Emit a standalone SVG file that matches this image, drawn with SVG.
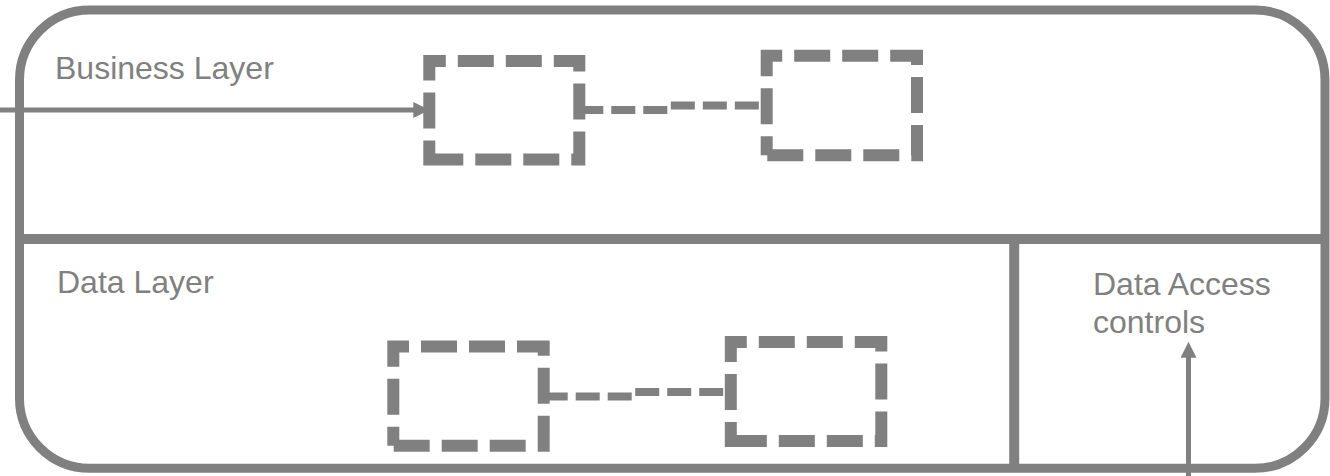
<svg xmlns="http://www.w3.org/2000/svg" width="1330" height="476" viewBox="0 0 1330 476">
  <style>
    .frame { fill: none; stroke: #808080; stroke-width: 9; }
    .divider { fill: none; stroke: #808080; stroke-width: 10; }
    .box { fill: none; stroke: #808080; stroke-width: 12; stroke-dasharray: 36 12; stroke-dashoffset: 17; stroke-linejoin: miter; }
    .link { fill: none; stroke: #808080; stroke-width: 8; stroke-dasharray: 24 8; stroke-linejoin: miter; }
    .arrow { fill: none; stroke: #808080; stroke-width: 5; }
    .label { font-family: "Liberation Sans", Arial, sans-serif; font-size: 32px; fill: #808080; }
  </style>
  <defs>
    <marker id="head" markerUnits="userSpaceOnUse" markerWidth="16" markerHeight="16" refX="8" refY="8" orient="auto" viewBox="0 0 16 16">
      <path d="M0,0 L16,8 L0,16 Z" fill="#808080"/>
    </marker>
  </defs>

  <g id="container">
    <rect class="frame" x="19.5" y="10" width="1305.5" height="458.3" rx="70" ry="70"/>
    <line class="divider" x1="19.5" y1="239" x2="1325" y2="239"/>
    <line class="divider" x1="1014.2" y1="239" x2="1014.2" y2="468.3"/>
  </g>

  <g id="business-layer">
    <text class="label" x="55" y="79">Business Layer</text>
  </g>
  <g id="data-layer">
    <text class="label" x="57" y="293">Data Layer</text>
  </g>
  <g id="data-access-controls">
    <text class="label" x="1093" y="295">Data Access</text>
    <text class="label" x="1093" y="333">controls</text>
  </g>

  <g id="connectors">
    <path class="arrow" d="M0,110 H421.3" marker-end="url(#head)"/>
    <path class="arrow" d="M1188.5,476 V349.7" marker-end="url(#head)"/>
    <path class="link" d="M579.3,110 H670 V105.5 H766.7"/>
    <path class="link" d="M543.7,396.5 H634 V392 H730.8"/>
  </g>

  <g id="business-box-1">
    <path class="box" d="M429.3,159.5 V61 H579.3 V159.5 Z"/>
  </g>
  <g id="business-box-2">
    <path class="box" d="M766.7,155.3 V55.8 H917 V155.3 Z"/>
  </g>
  <g id="data-box-1">
    <path class="box" d="M393.3,445.8 V346.5 H543.7 V445.8 Z"/>
  </g>
  <g id="data-box-2">
    <path class="box" d="M730.8,441 V342 H881.3 V441 Z"/>
  </g>
</svg>
